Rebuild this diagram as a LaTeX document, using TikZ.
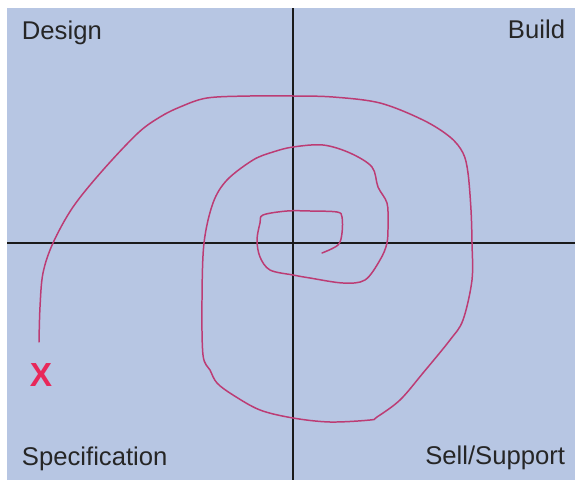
\documentclass[tikz,border=0pt]{standalone}
\usepackage{fontspec}
\setmainfont{Liberation Sans}
\usetikzlibrary{positioning}
\definecolor{cpaper}{HTML}{B7C6E3}
\definecolor{cspiral}{HTML}{BC3C74}
\definecolor{cmark}{HTML}{E8285A}
\definecolor{caxis}{HTML}{1A1A1A}
\tikzset{
  every picture/.style={line width=1.1pt},
  quadrant/.style={font=\fontsize{14.6}{17}\selectfont, text=black!85, inner sep=0pt},
  axis/.style={draw=caxis, line width=1.2pt},
  spiral/.style={draw=cspiral, line width=0.85pt, line cap=round, line join=round},
  startmark/.style={font=\fontsize{19}{21}\selectfont\bfseries, text=cmark, inner sep=0pt},
}

\begin{document}
\begin{tikzpicture}[x=0.02cm, y=-0.02cm]
  \useasboundingbox (0,0) rectangle (575,480);
  \fill[cpaper] (7,8) rectangle (575,480);
  % the two axes
  \coordinate (top) at (293,8);
  \coordinate (bottom) at (293,480);
  \coordinate (left) at (7,243);
  \coordinate (right) at (575,243);
  \draw[axis] (top) -- (bottom);
  \draw[axis] (left) -- (right);
  % quadrant names
  \node[quadrant, anchor=base west] (design) at (21,39) {Design};
  \node[quadrant, anchor=base east] (build) at (566,38) {Build};
  \node[quadrant, anchor=base west] (spec) at (21,465) {Specification};
  \node[quadrant, anchor=base east] (sell) at (566,464) {Sell/Support};
  \node[startmark] (start) at (41,375) {X};
  % the spiral, from the start mark inwards
  \draw[spiral] plot[smooth, tension=0.55] coordinates {
    (39,342) (40,307) (43,273) (53,243) (73,207) (103,170) (138,133)
    (160,117) (180,107) (207,98) (250,96) (293,96) (333,97) (380,103)
    (423,120) (450,137) (463,153) (468,173) (471,210) (472,243) (472,280)
    (463,320) (450,340) (423,373) (400,400) (377,417) (370,420) (330,422)
    (293,418) (260,410) (233,395) (217,383) (210,370) (203,355) (202,300)
    (204,243) (213,203) (227,180) (253,160) (273,152) (293,147) (323,145)
    (350,153) (372,167) (378,187) (387,203) (388,223) (387,243) (380,260)
    (365,280) (343,283) (310,278) (293,275) (270,270) (260,257) (257,240)
    (260,223) (263,215) (287,211) (310,211) (337,212) (342,217) (342,233)
    (338,245) (322,253)};
\end{tikzpicture}
\end{document}
